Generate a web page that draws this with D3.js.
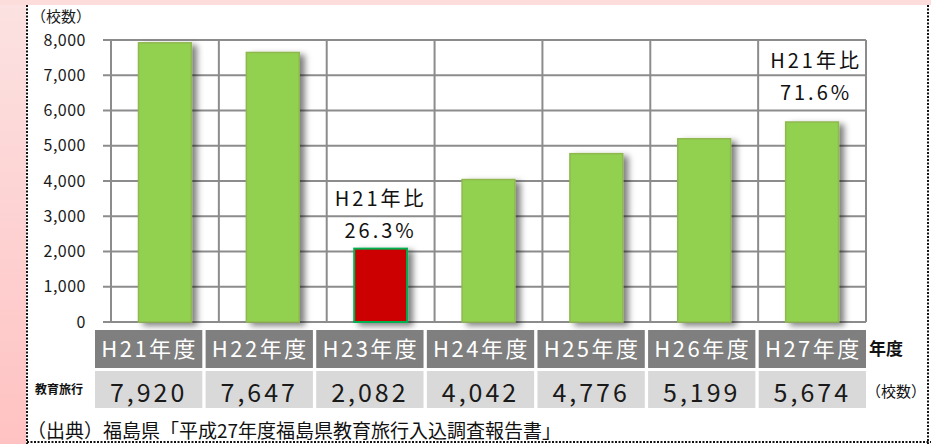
<!DOCTYPE html>
<html>
<head>
<meta charset="utf-8">
<script src="https://cdn.jsdelivr.net/npm/d3@7"></script>
<style>
  body { margin: 0; background: #fff; }
  svg { display: block; font-family: "Noto Sans CJK JP", "Noto Sans", sans-serif; }
</style>
</head>
<body>
<div id="chart-area"></div>
<script>
// data
const categories = ["H21年度", "H22年度", "H23年度", "H24年度", "H25年度", "H26年度", "H27年度"];
const schools = [7920, 7647, 2082, 4042, 4776, 5199, 5674];
const yTicks = [0, 1000, 2000, 3000, 4000, 5000, 6000, 7000, 8000];
const highlightCat = "H23年度";
const noteCats = ["H23年度", "H27年度"];
const noteRates = ["26.3%", "71.6%"];
const noteLabel = "H21年比";

const W = 931, H = 444;

const svg = d3.select("#chart-area").append("svg")
  .attr("width", W)
  .attr("height", H);

const defs = svg.append("defs");
const lg = defs.append("linearGradient")
  .attr("id", "pinkGrad")
  .attr("x1", 0).attr("y1", 0).attr("x2", 0).attr("y2", 1);
lg.append("stop").attr("offset", "0%").attr("stop-color", "#fce2e2");
lg.append("stop").attr("offset", "100%").attr("stop-color", "#ffc2c2");

const shadow = defs.append("filter")
  .attr("id", "shadow")
  .attr("x", "-20%").attr("y", "-10%")
  .attr("width", "160%").attr("height", "130%");
shadow.append("feDropShadow")
  .attr("dx", 5).attr("dy", 3)
  .attr("stdDeviation", 3)
  .attr("flood-color", "#000")
  .attr("flood-opacity", 0.5);

// background frame
svg.append("rect").attr("x", 0).attr("y", 0).attr("width", W).attr("height", H).attr("fill", "url(#pinkGrad)");
svg.append("rect").attr("x", 0).attr("y", 0).attr("width", W).attr("height", 5).attr("fill", "#fddcdc");
svg.append("rect").attr("x", 26).attr("y", 5).attr("width", W - 26).attr("height", H - 5).attr("fill", "#fff");

const border = svg.append("g")
  .attr("stroke", "#111")
  .attr("stroke-width", 2)
  .attr("stroke-dasharray", "2,1.5");
border.append("line").attr("x1", 27).attr("x2", 27).attr("y1", 5).attr("y2", H);
border.append("line").attr("x1", 928).attr("x2", 928).attr("y1", 5).attr("y2", H);
border.append("line").attr("x1", 27).attr("x2", W).attr("y1", 442).attr("y2", 442);

// scales
const x = d3.scaleBand()
  .domain(categories)
  .range([111, 866])
  .padding(0);

const y = d3.scaleLinear()
  .domain([0, 8000])
  .range([322, 40]);

const cell = d3.scaleBand()
  .domain(categories)
  .range([95, 866])
  .paddingInner(0.03)
  .paddingOuter(0);

const gridColor = "#8c8c8c";

// horizontal gridlines + tick marks
svg.append("g").selectAll("line")
  .data(yTicks)
  .enter().append("line")
  .attr("x1", 103)
  .attr("x2", x.range()[1])
  .attr("y1", d => y(d))
  .attr("y2", d => y(d))
  .attr("stroke", gridColor)
  .attr("stroke-width", 2);

// vertical gridlines
const vLines = categories.map(c => x(c)).concat([x.range()[1]]);
svg.append("g").selectAll("line")
  .data(vLines)
  .enter().append("line")
  .attr("x1", d => d)
  .attr("x2", d => d)
  .attr("y1", y(8000))
  .attr("y2", y(0))
  .attr("stroke", gridColor)
  .attr("stroke-width", 2);

// y axis labels
const axisLeft = d3.axisLeft(y)
  .tickValues(yTicks)
  .tickSize(0)
  .tickPadding(25)
  .tickFormat(d3.format(","));

const yAxis = svg.append("g")
  .attr("transform", `translate(${x.range()[0]},0)`)
  .call(axisLeft);
yAxis.select(".domain").remove();
yAxis.selectAll("text")
  .attr("font-family", "'Noto Sans CJK JP', sans-serif")
  .attr("font-size", "16px")
  .attr("fill", "#1a1a1a")
  .attr("letter-spacing", "0.5px");

svg.append("text")
  .attr("x", 31)
  .attr("y", 22)
  .attr("font-size", "15px")
  .attr("fill", "#1a1a1a")
  .text("（校数）");

// bars
const bw = x.bandwidth() * 0.49;
svg.append("g").selectAll("rect")
  .data(categories)
  .enter().append("rect")
  .attr("x", d => x(d) + (x.bandwidth() - bw) / 2)
  .attr("y", (d, i) => y(schools[i]))
  .attr("width", bw)
  .attr("height", (d, i) => y(0) - y(schools[i]))
  .attr("fill", d => d === highlightCat ? "#cc0000" : "#92d050")
  .attr("stroke", d => d === highlightCat ? "#00b050" : "#8fb850")
  .attr("stroke-width", d => d === highlightCat ? 2 : 1.5)
  .attr("filter", "url(#shadow)");

// annotations
const noteOffset = { "H23年度": 11, "H27年度": 22 };
noteCats.forEach((c, i) => {
  const v = schools[categories.indexOf(c)];
  const cx = x(c) + x.bandwidth() / 2 + (i === 1 ? 4 : 0);
  const base = y(v) - noteOffset[c];
  svg.append("text")
    .attr("x", cx)
    .attr("y", base - 32)
    .attr("text-anchor", "middle")
    .attr("font-size", "20px")
    .attr("letter-spacing", "3px")
    .attr("fill", "#111")
    .text(noteLabel);
  svg.append("text")
    .attr("x", cx)
    .attr("y", base)
    .attr("text-anchor", "middle")
    .attr("font-size", "20px")
    .attr("letter-spacing", "3px")
    .attr("fill", "#111")
    .text(noteRates[i]);
});

// table: header row
svg.append("g").selectAll("rect")
  .data(categories)
  .enter().append("rect")
  .attr("x", d => cell(d))
  .attr("y", 330)
  .attr("width", cell.bandwidth())
  .attr("height", 38)
  .attr("fill", "#7f7f7f");

svg.append("g").selectAll("text")
  .data(categories)
  .enter().append("text")
  .attr("x", d => cell(d) + cell.bandwidth() / 2 + 1)
  .attr("y", 357)
  .attr("text-anchor", "middle")
  .attr("font-size", "22px")
  .attr("letter-spacing", "2.5px")
  .attr("fill", "#fff")
  .text(d => d);

// table: value row
svg.append("g").selectAll("rect")
  .data(categories)
  .enter().append("rect")
  .attr("x", d => cell(d))
  .attr("y", 371)
  .attr("width", cell.bandwidth())
  .attr("height", 37)
  .attr("fill", "#d9d9d9");

svg.append("g").selectAll("text")
  .data(schools)
  .enter().append("text")
  .attr("x", (d, i) => cell(categories[i]) + cell.bandwidth() / 2)
  .attr("y", 402)
  .attr("text-anchor", "middle")
  .attr("font-size", "25px")
  .attr("letter-spacing", "3px")
  .attr("fill", "#1a1a1a")
  .text(d => d3.format(",")(d));

svg.append("text")
  .attr("x", 869)
  .attr("y", 355)
  .attr("font-size", "17px")
  .attr("font-weight", "bold")
  .attr("fill", "#111")
  .text("年度");

svg.append("text")
  .attr("x", 866)
  .attr("y", 397)
  .attr("font-size", "15px")
  .attr("fill", "#111")
  .text("（校数）");

svg.append("text")
  .attr("x", 35)
  .attr("y", 394)
  .attr("font-size", "12px")
  .attr("font-weight", "bold")
  .attr("fill", "#111")
  .text("教育旅行");

svg.append("text")
  .attr("x", 27)
  .attr("y", 438)
  .attr("font-size", "19px")
  .attr("fill", "#111")
  .text("（出典）福島県「平成27年度福島県教育旅行入込調査報告書」");
</script>
</body>
</html>
